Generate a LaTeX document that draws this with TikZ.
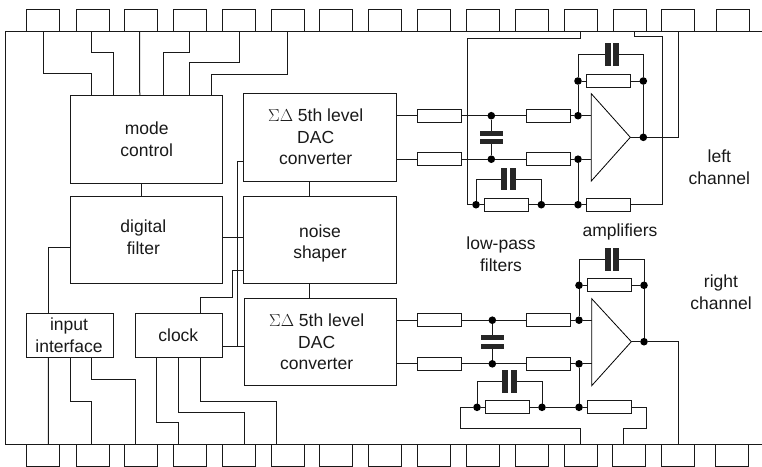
\documentclass[tikz,border=0pt]{standalone}
\usepackage{fontspec}
\setmainfont{Liberation Sans}
\usetikzlibrary{positioning, calc}

\begin{document}
\begin{tikzpicture}[x=1pt, y=-1pt, line width=1pt, color=black!90,
    pin/.style={draw, inner sep=0, outer sep=0, minimum width=33, minimum height=22},
    blk/.style={draw, inner sep=0, outer sep=0, minimum width=152.3, minimum height=87.3},
    smallblk/.style={draw, inner sep=0, outer sep=0, minimum width=87.2, minimum height=44},
    txt/.style={align=center, inner sep=0, font=\fontsize{17.5}{21.5}\selectfont},
    res/.style={draw, fill=white, inner sep=0, outer sep=0, minimum width=43.8, minimum height=13.3},
    dot/.style={circle, fill=black, inner sep=0, outer sep=0, minimum size=7.6},
    capv/.style={fill=black!85, inner sep=0, outer sep=0, minimum width=6, minimum height=22.4},
    caph/.style={fill=black!85, inner sep=0, outer sep=0, minimum width=22.7, minimum height=5.2},
    amp/.style={line width=0.8pt, color=black}]
  \useasboundingbox (0,0) rectangle (762,466);

  \draw (762,31) -- (5,31) -- (5,444) -- (762,444);
  \foreach \x [count=\i] in {42.8,92.8,140.8,189.5,238.5,287.5,336,385,434,482.8,531.7,580.5,629.5,678,732.5}
    \node[pin] (t\i) at (\x,20) {};
  \foreach \x [count=\i] in {42.5,92.8,140.5,189.5,238.5,287.5,336,385,433.5,483,532,580.5,629,678.3,732}
    \node[pin] (b\i) at (\x,455) {};

  \node[blk] (mode) at (146.2,139.35) {};
  \node[txt] (modetxt) at (146.7,139) {mode\\control};
  \node[blk] (digital) at (146.2,239.65) {};
  \node[txt] (digitaltxt) at (143.3,237) {digital\\filter};
  \node[blk] (dac1) at (319.85,137.35) {};
  \node[txt] (dac1txt) at (315.7,137) {$\Sigma\Delta$ 5th level\\DAC\\converter};
  \node[blk] (noise) at (319.85,239.65) {};
  \node[txt] (noisetxt) at (320,243.5) {noise\\shaper};
  \node[blk, minimum height=86.6] (dac2) at (320.5,342) {};
  \node[txt] (dac2txt) at (316.7,342) {$\Sigma\Delta$ 5th level\\DAC\\converter};
  \node[smallblk] (input) at (70,335.3) {};
  \node[txt] (inputtxt) at (69,335) {input\\interface};
  \node[smallblk] (clock) at (178.8,335.3) {};
  \node[txt] (clocktxt) at (178.3,335) {clock};

  \node[txt] (lefttxt) at (719.3,167) {left\\channel};
  \node[txt] (righttxt) at (721,292) {right\\channel};
  \node[txt] (amptxt) at (620,232) {amplifiers};
  \node[txt] (filtertxt) at (501,254) {low-pass\\filters};

  \draw ([xshift=.9]t1.south) -- ++(0,42.7) -| ([xshift=21.7]mode.north west);
  \draw ([xshift=-1.1]t2.south) -- ++(0,21.3) -| ([xshift=43.7]mode.north west);
  \draw ([xshift=-1.1]t3.south) -- ([xshift=69.7]mode.north west);
  \draw (t4.south) -- ++(0,21.3) -| ([xshift=93.3]mode.north west);
  \draw ([xshift=.8]t5.south) -- ++(0,31.7) -| ([xshift=119.7]mode.north west);
  \draw (t6.south) -- ++(0,43) -| ([xshift=141.3]mode.north west);

  \draw ([xshift=-4.5]mode.south) -- ([xshift=-4.5]digital.north);
  \draw ([xshift=-10.85]dac1.south) -- ([xshift=-10.85]noise.north);
  \draw ([xshift=-10.85]noise.south) -- ([xshift=-11.5]dac2.north);
  \draw ([xshift=22]input.north west) |- ([yshift=-8.3]digital.west);
  \draw ([yshift=2.35]digital.east) -- ([yshift=2.35]noise.west);
  \draw ([yshift=-24]dac1.west) -- ++(-6.15,0) -- ++(0,185.35);
  \draw ([yshift=-11.4]clock.east) -- ([yshift=-4.7]dac2.west);
  \draw ([xshift=21.5]clock.north) -- ++(0,-16.3) -- ++(32.4,0) |- ([yshift=-30.35]noise.west);

  \draw ([xshift=22]input.south west) -- ([xshift=5.8]b1.north);
  \draw ([xshift=43.7]input.south west) -- ++(0,43.7) -| ([xshift=-1.1]b2.north);
  \draw ([xshift=65.4]input.south west) -- ++(0,21.7) -| ([xshift=-5.2]b3.north);
  \draw ([xshift=21.7]clock.south west) -- ++(0,65.4) -| ([xshift=-10.8]b4.north);
  \draw ([xshift=43.4]clock.south west) -- ++(0,54.7) -| ([xshift=5.5]b5.north);
  \draw ([xshift=65]clock.south west) -- ++(0,43.7) -| ([xshift=-11.2]b6.north);

  \node[res] (lr1) at (439.3,115.7) {};
  \node[res] (lr2) at (439.3,159.2) {};
  \node[res] (lr3) at (548.2,115.7) {};
  \node[res] (lr4) at (548.2,159.2) {};
  \node[res] (lr5) at (506.7,204.7) {};
  \node[res] (lr6) at (608.5,204.7) {};
  \node[res] (lr7) at (608.5,81) {};
  \node[dot] (ld1) at (491.3,115.7) {};
  \node[dot] (ld2) at (491.3,159.2) {};
  \node[dot] (ld3) at (578,115.7) {};
  \node[dot] (ld4) at (578,159.2) {};
  \node[dot] (ld5) at (578,81) {};
  \node[dot] (ld6) at (643.3,81) {};
  \node[dot] (ld7) at (643.3,137.3) {};
  \node[dot] (ld8) at (476,204.7) {};
  \node[dot] (ld9) at (541.3,204.7) {};
  \node[dot] (ld10) at (578,204.7) {};
  \node[capv] (lc1a) at (607.6,54.5) {};
  \node[capv] (lc1b) at (615.5,54.5) {};
  \node[caph] (lc2a) at (491.3,133.3) {};
  \node[caph] (lc2b) at (491.3,141.8) {};
  \node[capv] (lc3a) at (504.4,179) {};
  \node[capv] (lc3b) at (513.3,179) {};
  \coordinate (lin1) at (591.3,115.7);
  \coordinate (lin2) at (591.3,159.2);
  \coordinate (lout) at (630.3,137.3);
  \draw[amp] (591.3,93.7) -- (lout) -- (591.3,181) -- cycle;

  \draw (dac1.east |- lr1) -- (lr1) -- (ld1) -- (lr3) -- (ld3) -- (lin1);
  \draw (dac1.east |- lr2) -- (lr2) -- (ld2) -- (lr4) -- (ld4) -- (lin2);
  \draw (ld1) -- (lc2a.north);
  \draw (ld2) -- (lc2b.south);
  \draw (ld3) -- (ld5) |- (lc1a.west);
  \draw (lc1b.east) -| (ld6);
  \draw (ld5) -- (lr7) -- (ld6) -- (ld7);
  \draw (lout) -- (ld7) -| (t14.south);
  \draw (ld4) -- (ld10);
  \draw (ld8) -- (lr5) -- (ld9) -- (ld10) -- (lr6);
  \draw (ld8) |- (lc3a.west);
  \draw (lc3b.east) -| (ld9);
  \draw (lr6.east) -- ++(32.2,0) -- ++(0,-168) -| ([xshift=4.8]t13.south);
  \draw (ld8) -- ++(-8.3,0) -- ++(0,-166.4) -| (t12.south);

  \node[res] (rr1) at (439.8,320.2) {};
  \node[res] (rr2) at (439.8,363.8) {};
  \node[res] (rr3) at (548.7,320.2) {};
  \node[res] (rr4) at (548.7,363.8) {};
  \node[res] (rr5) at (507.3,407.3) {};
  \node[res] (rr6) at (609.3,407.3) {};
  \node[res] (rr7) at (609.3,285.3) {};
  \node[dot] (rd1) at (492.3,320.2) {};
  \node[dot] (rd2) at (492.3,363.8) {};
  \node[dot] (rd3) at (579,320.2) {};
  \node[dot] (rd4) at (579,363.8) {};
  \node[dot] (rd5) at (579,285.3) {};
  \node[dot] (rd6) at (644,285.3) {};
  \node[dot] (rd7) at (644,341.7) {};
  \node[dot] (rd8) at (477,407.3) {};
  \node[dot] (rd9) at (542,407.3) {};
  \node[dot] (rd10) at (579,407.3) {};
  \node[capv] (rc1a) at (607.8,259.5) {};
  \node[capv] (rc1b) at (616.2,259.5) {};
  \node[caph] (rc2a) at (492.3,337.8) {};
  \node[caph] (rc2b) at (492.3,346.5) {};
  \node[capv] (rc3a) at (505.3,381.5) {};
  \node[capv] (rc3b) at (514.3,381.5) {};
  \coordinate (rin1) at (591.7,320.2);
  \coordinate (rin2) at (591.7,363.8);
  \coordinate (rout) at (631.3,341.7);
  \draw[amp] (591.7,298.7) -- (rout) -- (591.7,385.7) -- cycle;

  \draw (dac2.east |- rr1) -- (rr1) -- (rd1) -- (rr3) -- (rd3) -- (rin1);
  \draw (dac2.east |- rr2) -- (rr2) -- (rd2) -- (rr4) -- (rd4) -- (rin2);
  \draw (rd1) -- (rc2a.north);
  \draw (rd2) -- (rc2b.south);
  \draw (rd3) -- (rd5) |- (rc1a.west);
  \draw (rc1b.east) -| (rd6);
  \draw (rd5) -- (rr7) -- (rd6) -- (rd7);
  \draw (rout) -- (rd7) -| (b14.north);
  \draw (rd4) -- (rd10);
  \draw (rd8) -- (rr5) -- (rd9) -- (rd10) -- (rr6);
  \draw (rd8) |- (rc3a.west);
  \draw (rc3b.east) -| (rd9);
  \draw (rr6.east) -- ++(15.2,0) -- ++(0,20.7) -| ([xshift=-5.3]b13.north);
  \draw (rd8) -- ++(-16.3,0) -- ++(0,20.7) -| (b12.north);
\end{tikzpicture}
\end{document}
